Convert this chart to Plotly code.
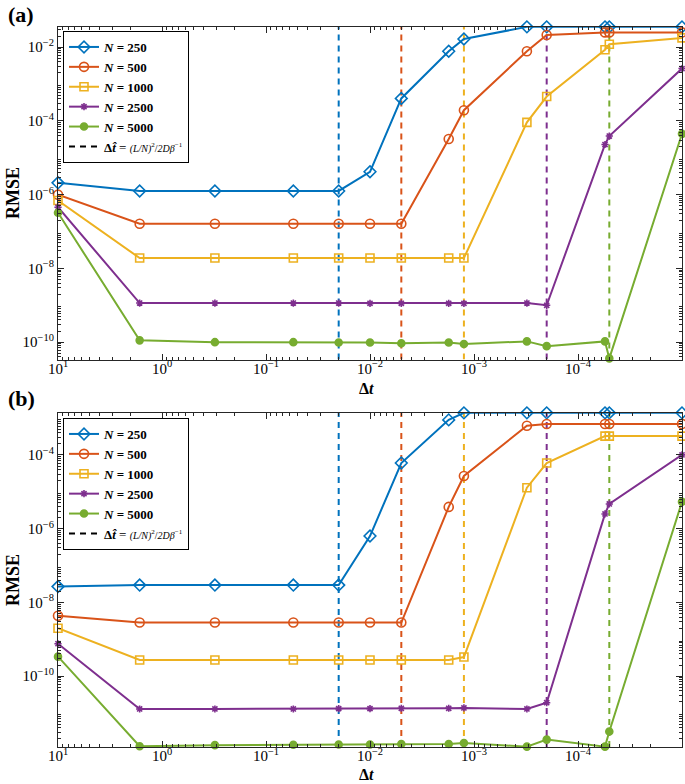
import plotly.graph_objects as go

# ---------------- data ----------------
dt = [10, 1.64, 0.31, 0.0546, 0.02, 0.01, 0.005, 0.00175, 0.00125, 3.1e-4, 2e-4, 5.5e-5, 5e-5, 1e-5]
n_labels = ["250", "500", "1000", "2500", "5000"]
dt_hat = [0.02, 0.005, 0.00125, 0.0002, 0.00005]

rmse_a_250 = [2.09e-6, 1.26e-6, 1.26e-6, 1.26e-6, 1.26e-6, 4.17e-6, 4.07e-4, 7.76e-3, 1.66e-2, 3.55e-2, 3.55e-2, 3.55e-2, 3.55e-2, 3.55e-2]
rmse_a_500 = [1.0e-6, 1.62e-7, 1.62e-7, 1.62e-7, 1.62e-7, 1.62e-7, 1.62e-7, 3.24e-5, 1.95e-4, 7.76e-3, 2.14e-2, 2.51e-2, 2.51e-2, 2.51e-2]
rmse_a_1000 = [6.92e-7, 1.91e-8, 1.91e-8, 1.91e-8, 1.91e-8, 1.91e-8, 1.91e-8, 1.91e-8, 1.91e-8, 9.12e-5, 4.57e-4, 8.51e-3, 1.20e-2, 1.78e-2]
rmse_a_2500 = [4.57e-7, 1.15e-9, 1.15e-9, 1.15e-9, 1.15e-9, 1.13e-9, 1.13e-9, 1.13e-9, 1.12e-9, 1.15e-9, 1.0e-9, 2.29e-5, 3.89e-5, 2.63e-3]
rmse_a_5000 = [3.24e-7, 1.12e-10, 1.0e-10, 1.0e-10, 9.8e-11, 9.8e-11, 9.3e-11, 9.8e-11, 8.9e-11, 1.05e-10, 7.8e-11, 1.05e-10, 3.63e-11, 4.47e-5]

rmse_b_250 = [2.69e-8, 2.95e-8, 2.95e-8, 2.95e-8, 2.95e-8, 6.31e-7, 6.03e-5, 8.91e-4, 1.38e-3, 1.38e-3, 1.38e-3, 1.38e-3, 1.38e-3, 1.38e-3]
rmse_b_500 = [4.37e-9, 2.85e-9, 2.85e-9, 2.85e-9, 2.85e-9, 2.85e-9, 2.85e-9, 3.89e-6, 2.69e-5, 6.17e-4, 6.92e-4, 6.92e-4, 6.92e-4, 6.92e-4]
rmse_b_1000 = [2.0e-9, 2.75e-10, 2.75e-10, 2.75e-10, 2.75e-10, 2.75e-10, 2.75e-10, 2.75e-10, 3.31e-10, 1.29e-5, 6.03e-5, 3.24e-4, 3.24e-4, 3.24e-4]
rmse_b_2500 = [7.59e-10, 1.29e-11, 1.29e-11, 1.29e-11, 1.32e-11, 1.32e-11, 1.35e-11, 1.35e-11, 1.38e-11, 1.29e-11, 1.91e-11, 2.51e-6, 4.68e-6, 1.0e-4]
rmse_b_5000 = [3.39e-10, 1.26e-12, 1.35e-12, 1.38e-12, 1.41e-12, 1.41e-12, 1.45e-12, 1.45e-12, 1.55e-12, 1.23e-12, 1.91e-12, 1.23e-12, 3.16e-12, 5.37e-6]

x_tick_vals = [10, 1, 0.1, 0.01, 0.001, 0.0001]
x_tick_text = ["10<sup>1</sup>", "10<sup>0</sup>", "10<sup>−1</sup>", "10<sup>−2</sup>", "10<sup>−3</sup>", "10<sup>−4</sup>"]
y_tick_vals = [1e-2, 1e-4, 1e-6, 1e-8, 1e-10]
y_tick_text = ["10<sup>−2</sup>", "10<sup>−4</sup>", "10<sup>−6</sup>", "10<sup>−8</sup>", "10<sup>−10</sup>"]

# ---------------- style ----------------
colors = ["#0072BD", "#D95319", "#EDB120", "#7E2F8E", "#77AC30"]
symbols = ["diamond-open", "circle-open", "square-open", "asterisk-open", "circle"]
msizes = [9, 9, 8, 6, 7]
FONT = "Liberation Serif"
AX = "#262626"

yrange_a = [-10.47, -1.44]
yrange_b = [-11.92, -2.85]

fig = go.Figure()

series_a = [rmse_a_250, rmse_a_500, rmse_a_1000, rmse_a_2500, rmse_a_5000]
series_b = [rmse_b_250, rmse_b_500, rmse_b_1000, rmse_b_2500, rmse_b_5000]

panels = [("x", "y", series_a, yrange_a, "legend"), ("x2", "y2", series_b, yrange_b, "legend2")]

for xa, ya, series, yr, leg in panels:
    # dashed reference lines
    for k, d in enumerate(dt_hat):
        fig.add_trace(go.Scatter(x=[d, d], y=[10 ** yr[0], 10 ** yr[1]], mode="lines",
                                 line=dict(color=colors[k], width=2, dash="6px,5px"),
                                 xaxis=xa, yaxis=ya, showlegend=False, hoverinfo="skip"))
    for k, vals in enumerate(series):
        fig.add_trace(go.Scatter(
            x=dt, y=vals, mode="lines+markers",
            name="<b><i>N</i> = " + n_labels[k] + "</b>",
            line=dict(color=colors[k], width=2),
            marker=dict(symbol=symbols[k], size=msizes[k], color=colors[k],
                        line=dict(color=colors[k], width=1.6)),
            xaxis=xa, yaxis=ya, legend=leg, cliponaxis=False))
    fig.add_trace(go.Scatter(
        x=[None], y=[None], mode="lines",
        name="<b>Δ<i>t̂</i></b> = <span style='font-size:10px'><i>(L/N)</i><sup>2</sup>/<i>2Dβ</i><sup>−1</sup></span>",
        line=dict(color="black", width=2, dash="6px,5px"),
        xaxis=xa, yaxis=ya, legend=leg))

minor_x = [m * 10 ** e for e in range(-5, 1) for m in range(2, 10)]
minor_y = [m * 10.0 ** e for e in range(-13, 0) for m in range(2, 10)]

xcommon = dict(type="log", range=[1, -5], autorange=False, tickvals=x_tick_vals, ticktext=x_tick_text,
               ticks="inside", ticklen=6, tickcolor=AX, showline=True, linecolor=AX, linewidth=1,
               mirror="allticks", showgrid=False, zeroline=False, automargin=False,
               ticklabelstandoff=-5,
               tickfont=dict(family=FONT, size=15, color="black"),
               minor=dict(tickvals=minor_x, ticks="inside", ticklen=3, tickcolor=AX, showgrid=False))
ycommon = dict(type="log", autorange=False, tickvals=y_tick_vals, ticktext=y_tick_text,
               ticks="inside", ticklen=6, tickcolor=AX, showline=True, linecolor=AX, linewidth=1,
               mirror="allticks", showgrid=False, zeroline=False, automargin=False,
               tickfont=dict(family=FONT, size=15, color="black"),
               minor=dict(tickvals=minor_y, ticks="inside", ticklen=3, tickcolor=AX, showgrid=False))

W, H = 685, 784
x0, x1 = 58 / W, 682 / W
legfont = dict(family=FONT, size=13, color="black")
fig.update_layout(
    width=W, height=H, margin=dict(l=0, r=0, t=0, b=0, autoexpand=False),
    paper_bgcolor="white", plot_bgcolor="white",
    font=dict(family=FONT, color="black"),
    xaxis=dict(domain=[x0, x1], anchor="y", **xcommon),
    yaxis=dict(domain=[1 - 359.5 / H, 1 - 26.5 / H], anchor="x", range=yrange_a, **ycommon),
    xaxis2=dict(domain=[x0, x1], anchor="y2", **xcommon),
    yaxis2=dict(domain=[1 - 747 / H, 1 - 412.5 / H], anchor="x2", range=yrange_b, **ycommon),
    legend=dict(x=63 / W, y=1 - 31 / H, xanchor="left", yanchor="top", bgcolor="white",
                bordercolor="black", borderwidth=1, font=legfont,
                tracegroupgap=0, itemwidth=30),
    legend2=dict(x=63 / W, y=1 - 418 / H, xanchor="left", yanchor="top", bgcolor="white",
                 bordercolor="black", borderwidth=1, font=legfont,
                 tracegroupgap=0, itemwidth=30),
    showlegend=True,
)

ann = [
    dict(text="<b>(a)</b>", x=6 / W, y=1 - 15 / H),
    dict(text="<b>(b)</b>", x=6 / W, y=1 - 398 / H),
]
for a in ann:
    fig.add_annotation(xref="paper", yref="paper", xanchor="left", yanchor="middle", showarrow=False,
                       font=dict(family=FONT, size=22, color="black"), **a)
for yy in [398, 784]:
    fig.add_annotation(text="<b>Δ<i>t</i></b>", xref="paper", yref="paper", x=(x0 + x1) / 2 - 4 / W,
                       y=1 - yy / H, xanchor="center", yanchor="bottom", showarrow=False, borderpad=0,
                       font=dict(family=FONT, size=16, color="black"))
for yy in [193, 580]:
    fig.add_annotation(text="<b>RMSE</b>", xref="paper", yref="paper", x=13 / W, y=1 - yy / H,
                       xanchor="center", yanchor="middle", showarrow=False, textangle=-90,
                       font=dict(family=FONT, size=18, color="black"))

fig.write_html("out.html", config={"displayModeBar": False},
               post_script="document.body.style.margin='0px';document.body.style.overflow='hidden';")
